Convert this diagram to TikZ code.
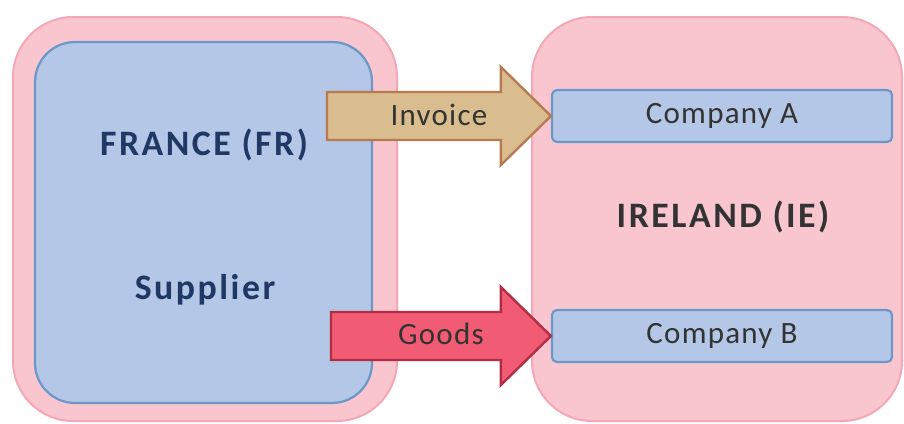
\documentclass[tikz,border=0pt]{standalone}
\usepackage{fontspec}
\setmainfont{Carlito}
\newfontfamily\countryfont[LetterSpace=7]{Carlito}
\newfontfamily\labelfont[LetterSpace=4]{Carlito}
\usetikzlibrary{calc}
\definecolor{pinkfill}{HTML}{F9C6D0}
\definecolor{pinkline}{HTML}{F4A7B7}
\definecolor{bluefill}{HTML}{B4C7E7}
\definecolor{blueline}{HTML}{6C97C7}
\definecolor{tanfill}{HTML}{D9BD8E}
\definecolor{tanline}{HTML}{B87B50}
\definecolor{redfill}{HTML}{F15C74}
\definecolor{redline}{HTML}{B32D44}
\definecolor{navytext}{HTML}{1F3864}
\definecolor{greytext}{HTML}{333333}
\tikzset{
  countrybox/.style={draw=pinkline, fill=pinkfill, line width=1pt, rounded corners=30pt,
    inner sep=0pt, minimum height=202pt},
  partybox/.style={draw=blueline, fill=bluefill, line width=1.1pt, inner sep=0pt},
  countrytext/.style={anchor=base, font=\countryfont\bfseries\fontsize{17.9}{20}\selectfont},
  flowtext/.style={text=greytext, font=\labelfont\fontsize{15.5}{18}\selectfont},
}
\begin{document}
\begin{tikzpicture}[x=0.5pt,y=-0.5pt]
\useasboundingbox (0,0) rectangle (904,423);
% countries
\node [countrybox, minimum width=192pt] (france) at (205,219) {};
\node [countrybox, minimum width=185pt] (ireland) at (717,219) {};
\node [partybox, rounded corners=20pt, minimum width=168.5pt, minimum height=180.5pt] (supbox) at (203.5,222.5) {};
\node [countrytext, text=navytext] (frtext) at (204,155) {FRANCE (FR)};
\node [countrytext, text=navytext] (supplier) at (205,299) {Supplier};
\node [countrytext, text=greytext] (ietext) at (723,227) {IRELAND (IE)};
% companies
\node [partybox, flowtext, rounded corners=2.5pt, minimum width=170pt, minimum height=26pt] (compA) at (722,116) {Company A};
\node [partybox, flowtext, rounded corners=2.5pt, minimum width=170pt, minimum height=26pt] (compB) at (722,336) {Company B};
% flows
\coordinate (invtail) at (327,0 |- compA.west);
\coordinate (goodstail) at (331,0 |- compB.west);
\draw [draw=tanline, fill=tanfill, line width=1.2pt, line join=miter]
  ($(invtail)+(0,-24)$) -- ($(compA.west)+(-50,-24)$) -- ($(compA.west)+(-50,-49)$)
  -- (compA.west) -- ($(compA.west)+(-50,49)$) -- ($(compA.west)+(-50,24)$)
  -- ($(invtail)+(0,24)$) -- cycle;
\draw [draw=redline, fill=redfill, line width=1.2pt, line join=miter]
  ($(goodstail)+(0,-24)$) -- ($(compB.west)+(-50,-24)$) -- ($(compB.west)+(-50,-49)$)
  -- (compB.west) -- ($(compB.west)+(-50,49)$) -- ($(compB.west)+(-50,24)$)
  -- ($(goodstail)+(0,24)$) -- cycle;
\node [flowtext] (invoice) at ($(invtail)!0.5!(compA.west)+(0,-1)$) {Invoice};
\node [flowtext] (goods) at ($(goodstail)!0.5!(compB.west)+(0,-2)$) {Goods};
\end{tikzpicture}
\end{document}
